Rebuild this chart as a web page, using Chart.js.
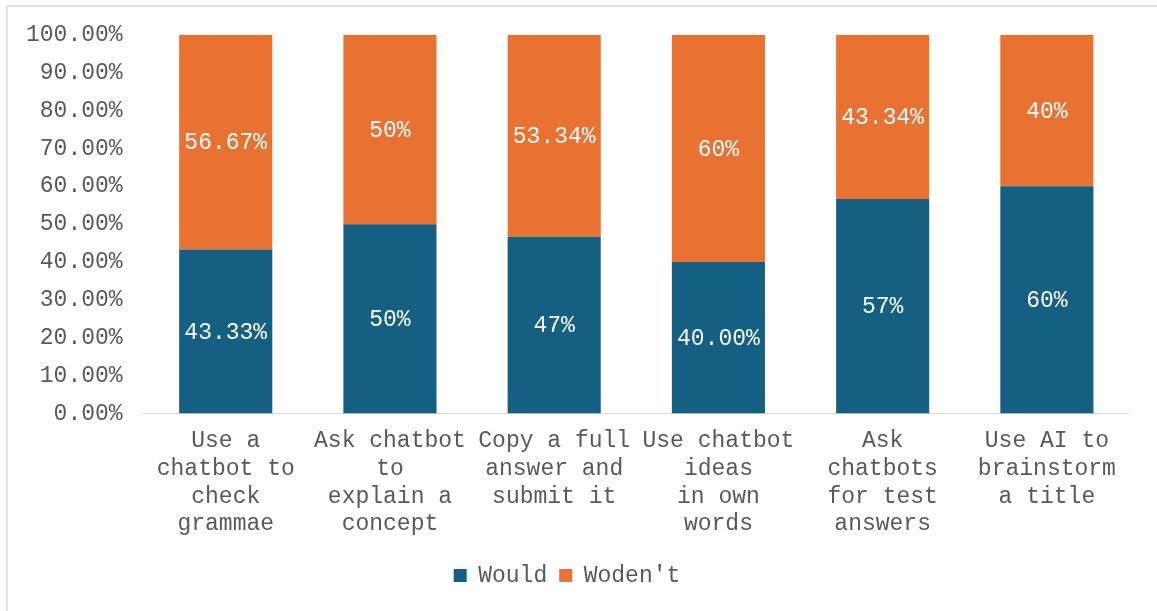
<!DOCTYPE html>
<html lang="en">
<head>
<meta charset="UTF-8">
<title>AI chatbot use</title>
<script src="https://cdn.jsdelivr.net/npm/chart.js@4.4.0/dist/chart.umd.min.js"></script>
<style>
  html, body { margin: 0; padding: 0; background: #fff; }
  #wrap { position: relative; width: 1157px; height: 611px; }
  #frame { position: absolute; left: 6px; top: 5px; width: 1151px; height: 606px; border-top: 2px solid #e3e3e3; border-left: 2px solid #e3e3e3; box-sizing: border-box; }
  canvas { position: absolute; left: 0; top: 0; }
</style>
</head>
<body>
<div id="wrap">
  <div id="frame"></div>
  <canvas id="myChart" width="1157" height="611"></canvas>
</div>
<script>
// chart data
var categories = [
  ["Use a", "chatbot to", "check", "grammae"],
  ["Ask chatbot", "to", "explain a", "concept"],
  ["Copy a full", "answer and", "submit it"],
  ["Use chatbot", "ideas", "in own", "words"],
  ["Ask", "chatbots", "for test", "answers"],
  ["Use AI to", "brainstorm", "a title"]
];
var wouldValues = [43.33, 50, 46.66, 40, 56.66, 60];
var wontValues = [56.67, 50, 53.34, 60, 43.34, 40];
var wouldLabels = ["43.33%", "50%", "47%", "40.00%", "57%", "60%"];
var wontLabels = ["56.67%", "50%", "53.34%", "60%", "43.34%", "40%"];
var yTicks = [0, 10, 20, 30, 40, 50, 60, 70, 80, 90, 100];

var mono = "'Courier New', 'Liberation Mono', monospace";
var textGray = "#595959";

// draws the value text in the middle of each bar segment
var barText = {
  id: "barText",
  afterDatasetsDraw: function (chart) {
    var ctx = chart.ctx;
    ctx.save();
    ctx.font = "23px " + mono;
    ctx.fillStyle = "#ffffff";
    ctx.textAlign = "center";
    ctx.textBaseline = "middle";
    chart.data.datasets.forEach(function (ds, i) {
      var meta = chart.getDatasetMeta(i);
      meta.data.forEach(function (bar, j) {
        var mid = (bar.y + bar.base) / 2;
        ctx.fillText(ds.valueText[j], bar.x, mid + 1);
      });
    });
    ctx.restore();
  }
};

var ctx = document.getElementById("myChart").getContext("2d");
var chart = new Chart(ctx, {
  type: "bar",
  data: {
    labels: categories,
    datasets: [{
      label: "Would",
      data: wouldValues,
      valueText: wouldLabels,
      backgroundColor: "#156082",
      barPercentage: 0.567,
      categoryPercentage: 1
    }, {
      label: "Woden't",
      data: wontValues,
      valueText: wontLabels,
      backgroundColor: "#E97132",
      barPercentage: 0.567,
      categoryPercentage: 1
    }]
  },
  options: {
    responsive: false,
    animation: false,
    layout: { padding: { left: 5, right: 28, top: 24, bottom: 14 } },
    plugins: {
      tooltip: { enabled: false },
      legend: {
        position: "bottom",
        labels: {
          font: { family: mono, size: 23 },
          color: textGray,
          boxWidth: 13,
          boxHeight: 13,
          padding: 12
        }
      }
    },
    scales: {
      x: {
        stacked: true,
        grid: { display: false, drawTicks: false },
        border: { display: true, color: "#d9d9d9", width: 1 },
        ticks: {
          font: { family: mono, size: 23, lineHeight: 1.2 },
          color: textGray,
          maxRotation: 0,
          autoSkip: false,
          padding: 14
        }
      },
      y: {
        stacked: true,
        min: 0,
        max: 100,
        afterBuildTicks: function (scale) {
          scale.ticks = yTicks.map(function (v) { return { value: v }; });
        },
        grid: { display: false, drawTicks: false },
        border: { display: false },
        ticks: {
          font: { family: mono, size: 23 },
          color: textGray,
          padding: 21,
          callback: function (v) { return v.toFixed(2) + "%"; }
        }
      }
    }
  },
  plugins: [barText]
});
</script>
</body>
</html>
